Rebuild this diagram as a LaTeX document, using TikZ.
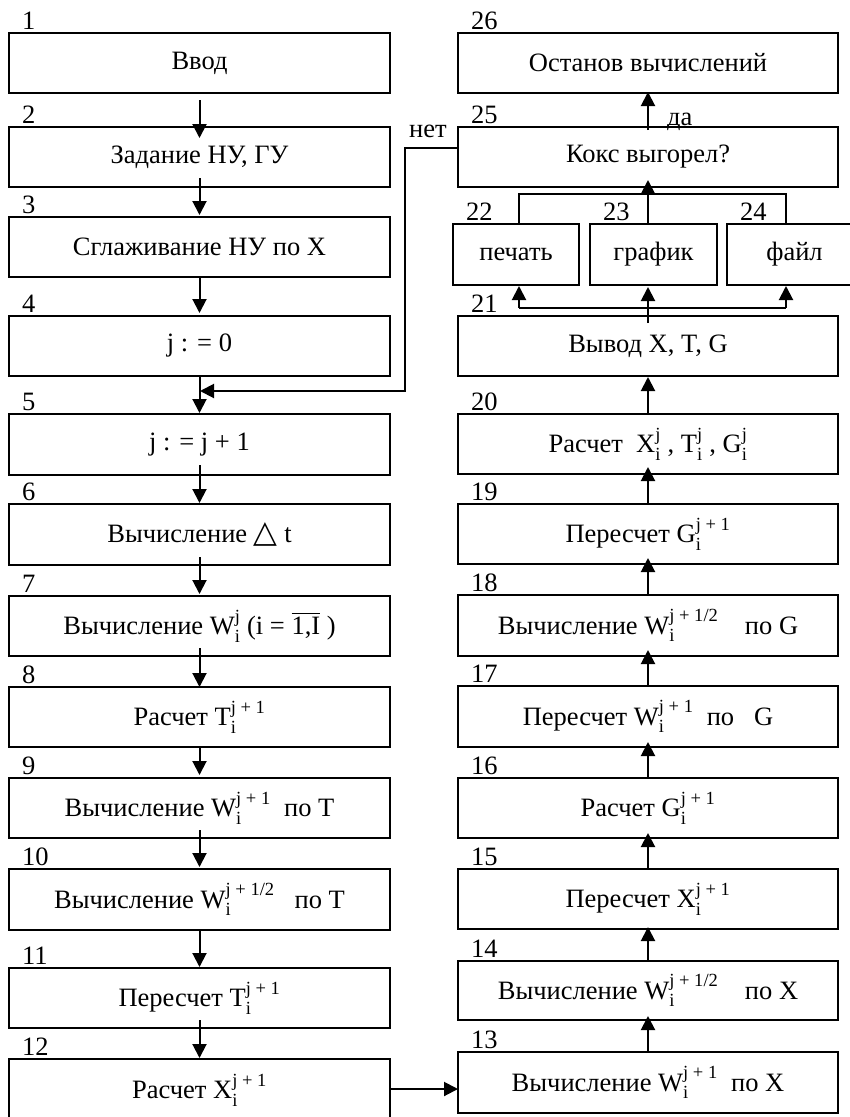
\documentclass[tikz,border=0pt]{standalone}
\usepackage{fontspec}
\usepackage{amsmath}
\setmainfont{Liberation Serif}
\newfontfamily\symfont{DejaVu Sans}
\usetikzlibrary{arrows.meta}
% stacked superscript / subscript set in the text font
\newcommand\ws[2]{\ensuremath{^{\text{#1}}_{\text{#2}}}}

\begin{document}
\begin{tikzpicture}[x=1pt,y=-1pt,
  txt/.style={font=\fontsize{26.5}{30}\selectfont},
  box/.style={draw, line width=2pt, inner sep=0pt, outer sep=0pt, txt, minimum height=60pt},
  lcol/.style={box, minimum width=381pt},
  rcol/.style={box, minimum width=380pt},
  num/.style={anchor=base west, inner sep=0pt, xshift=13pt, yshift=4pt, txt},
  arr/.style={line width=2pt, -{Triangle[length=14pt,width=14pt]}},
  wire/.style={line width=2pt},
]
\clip (0,0) rectangle (850,1117);

% left column
\node[lcol, label={[num]north west:1}] (b1) at (199.5,63) {Ввод};
\node[lcol, label={[num]north west:2}] (b2) at (199.5,157) {Задание НУ, ГУ};
\node[lcol, label={[num]north west:3}] (b3) at (199.5,247) {Сглаживание НУ по Х};
\node[lcol, label={[num]north west:4}] (b4) at (199.5,346) {j : = 0};
\node[lcol, minimum height=61pt, label={[num]north west:5}] (b5) at (199.5,444.5) {j : = j + 1};
\node[lcol, minimum height=61pt, label={[num]north west:6}] (b6) at (199.5,534.5) {Вычисление {\symfont\fontsize{31}{31}\selectfont △} t};
\node[lcol, label={[num]north west:7}] (b7) at (199.5,626) {Вычисление W\ws{j}{i} (i = $\overline{\text{1,I}}$ )};
\node[lcol, label={[num]north west:8}] (b8) at (199.5,717) {Расчет T\ws{j + 1}{i}};
\node[lcol, label={[num]north west:9}] (b9) at (199.5,808) {Вычисление W\ws{j + 1}{i}\ \ по T};
\node[lcol, minimum height=61pt, label={[num]north west:10}] (b10) at (199.5,899.5) {Вычисление W\ws{j + 1/2}{i}\ \ \ по T};
\node[lcol, label={[num]north west:11}] (b11) at (199.5,998) {Пересчет T\ws{j + 1}{i}};
\node[lcol, minimum height=62pt, label={[num]north west:12}] (b12) at (199.5,1090) {Расчет X\ws{j + 1}{i}};

% right column
\node[rcol, label={[num]north west:26}] (b26) at (648,63) {Останов вычислений};
\node[rcol, label={[num]north west:25}] (b25) at (648,157) {Кокс выгорел?};
\node[box, minimum width=126pt, minimum height=61pt, label={[num]north west:22}] (b22) at (516,254.5) {печать};
\node[box, minimum width=127pt, minimum height=61pt, label={[num]north west:23}] (b23) at (653.5,254.5) {график};
\node[box, minimum width=135pt, minimum height=61pt, label={[num]north west:24}] (b24) at (794.5,254.5) {файл};
\node[rcol, label={[num]north west:21}] (b21) at (648,346) {Вывод X, T, G};
\node[rcol, label={[num]north west:20}] (b20) at (648,444) {Расчет\ \ X\ws{j}{i} , T\ws{j}{i} , G\ws{j}{i}};
\node[rcol, label={[num]north west:19}] (b19) at (648,534) {Пересчет G\ws{j + 1}{i}};
\node[rcol, minimum height=61pt, label={[num]north west:18}] (b18) at (648,625.5) {Вычисление W\ws{j + 1/2}{i}\ \ \ \ по G};
\node[rcol, minimum height=61pt, label={[num]north west:17}] (b17) at (648,716.5) {Пересчет W\ws{j + 1}{i}\ \ по\ \ \ G};
\node[rcol, label={[num]north west:16}] (b16) at (648,808) {Расчет G\ws{j + 1}{i}};
\node[rcol, label={[num]north west:15}] (b15) at (648,899) {Пересчет X\ws{j + 1}{i}};
\node[rcol, minimum height=59pt, label={[num]north west:14}] (b14) at (648,990.5) {Вычисление W\ws{j + 1/2}{i}\ \ \ \ по X};
\node[rcol, minimum height=61pt, label={[num]north west:13}] (b13) at (648,1082.5) {Вычисление W\ws{j + 1}{i}\ \ по X};

% branch labels
\node[txt, anchor=base west, inner sep=0pt] (no) at (409,137) {нет};
\node[txt, anchor=base west, inner sep=0pt] (yes) at (667,125) {да};

% left column flow (downwards)
\draw[arr] ([yshift=-7pt]b1.south) -- ([yshift=-11pt]b2.north);
\draw[arr] ([yshift=9pt]b2.south) -- ([yshift=2pt]b3.north);
\draw[arr] (b3.south) -- ([yshift=3pt]b4.north);
\draw[arr] (b4.south) -- ([yshift=1pt]b5.north);
\draw[arr] ([yshift=10pt]b5.south) -- ([yshift=1pt]b6.north);
\draw[arr] ([yshift=8pt]b6.south) -- ([yshift=2pt]b7.north);
\draw[arr] ([yshift=8pt]b7.south) -- (b8.north);
\draw[arr] (b8.south) -- ([yshift=3pt]b9.north);
\draw[arr] ([yshift=8pt]b9.south) -- ([yshift=2pt]b10.north);
\draw[arr] (b10.south) -- ([yshift=1pt]b11.north);
\draw[arr] ([yshift=8pt]b11.south) -- ([yshift=1pt]b12.north);

% transfer to the right column
\draw[arr] (b12.east |- 0,1089) -- (b13.west |- 0,1089);

% right column flow (upwards)
\draw[arr] (b13.north) -- ([yshift=4pt]b14.south);
\draw[arr] (b14.north) -- ([yshift=2pt]b15.south);
\draw[arr] (b15.north) -- ([yshift=5pt]b16.south);
\draw[arr] (b16.north) -- ([yshift=5pt]b17.south);
\draw[arr] (b17.north) -- ([yshift=6pt]b18.south);
\draw[arr] (b18.north) -- ([yshift=6pt]b19.south);
\draw[arr] (b19.north) -- ([yshift=7pt]b20.south);
\draw[arr] (b20.north) -- ([yshift=-1pt]b21.south);

% output fan-out
\coordinate (j1) at (648,307.5);
\draw[arr] ([yshift=-7pt]b21.north) -- ([yshift=-2pt]b21.north |- b23.south);
\draw[wire] (j1) -- ([xshift=3pt]b22.south |- j1);
\draw[wire] (j1) -- ([xshift=-8.5pt]b24.south |- j1);
\draw[arr] ([xshift=3pt]b22.south |- j1) -- ([xshift=3pt,yshift=-1pt]b22.south);
\draw[arr] ([xshift=-8.5pt]b24.south |- j1) -- ([xshift=-8.5pt,yshift=-1pt]b24.south);

% fan-in to the check
\coordinate (j2) at (648,194);
\draw[wire] ([xshift=3pt]b22.north) |- (j2) -| ([xshift=-8.5pt]b24.north);
\draw[arr] (b25.south |- b23.north) -- ([yshift=7pt]b25.south);
\draw[arr] ([yshift=-3pt]b25.north) -- ([yshift=1pt]b26.south);

% loop back when the coke has not burnt out
\coordinate (join) at (200,391);
\draw[arr] ([yshift=9pt]b25.west) -| (405,391) -- (join);
\end{tikzpicture}
\end{document}
